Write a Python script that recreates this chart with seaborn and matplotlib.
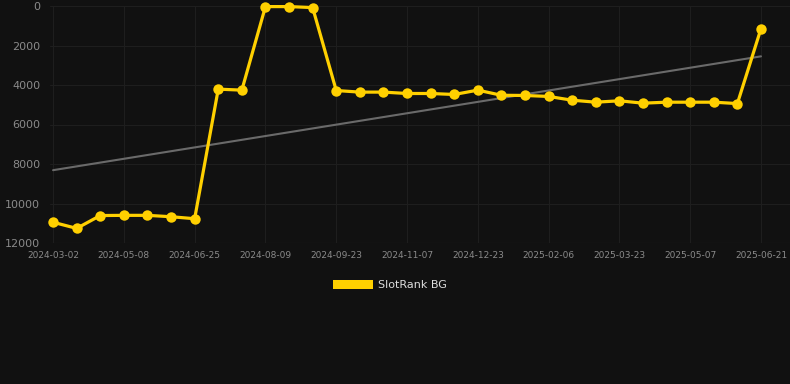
import matplotlib
matplotlib.use("Agg")
import matplotlib.pyplot as plt
import seaborn as sns
import numpy as np
import pandas as pd
from matplotlib.patches import Rectangle

dates = [
    "2024-03-02", "2024-03-24", "2024-04-15", "2024-05-08", "2024-05-24", "2024-06-09",
    "2024-06-25", "2024-07-10", "2024-07-25", "2024-08-09", "2024-08-24", "2024-09-08",
    "2024-09-23", "2024-10-08", "2024-10-23", "2024-11-07", "2024-11-22", "2024-12-08",
    "2024-12-23", "2025-01-07", "2025-01-22", "2025-02-06", "2025-02-21", "2025-03-08",
    "2025-03-23", "2025-04-07", "2025-04-22", "2025-05-07", "2025-05-22", "2025-06-06",
    "2025-06-21",
]
ranks = [
    10950, 11260, 10610, 10600, 10600, 10670, 10770, 4210, 4260, 30, 30, 80,
    4280, 4360, 4360, 4430, 4430, 4480, 4260, 4520, 4530, 4580, 4770, 4870,
    4800, 4920, 4870, 4870, 4870, 4940, 1150,
]
series_name = "SlotRank BG"

bg = "#111111"
yellow = "#FFD000"

sns.set_theme(style="dark")
plt.rcParams['font.family'] = ['DejaVu Sans']

df = pd.DataFrame({"idx": np.arange(len(dates)), "rank": ranks, "date": dates})

fig = plt.figure(figsize=(7.9, 3.84), dpi=100, facecolor=bg)
ax = fig.add_axes([50 / 790, 1 - 243 / 384, 740 / 790, 237 / 384])
ax.set_facecolor(bg)

sns.regplot(data=df, x="idx", y="rank", scatter=False, ci=None, ax=ax,
            line_kws=dict(color="#6a6a6a", linewidth=1.5, zorder=2))
sns.lineplot(data=df, x="idx", y="rank", ax=ax, color=yellow, linewidth=2.3,
             marker="o", markersize=7.5, markeredgewidth=0, legend=False,
             zorder=3, clip_on=False)

ax.set_ylim(12000, 0)
ax.set_xlim(-0.13, 31.23)
ax.set_yticks([0, 2000, 4000, 6000, 8000, 10000, 12000])
ax.set_yticklabels(["0", "2000", "4000", "6000", "8000", "10000", "12000"])
tick_idx = list(range(0, len(dates), 3))
ax.set_xticks(tick_idx)
ax.set_xticklabels([dates[i] for i in tick_idx])
ax.set_xlabel("")
ax.set_ylabel("")

ax.grid(True, color="#1e1e1e", linewidth=0.8)
for s in ax.spines.values():
    s.set_visible(False)
ax.tick_params(axis="y", colors="#8a8a8a", labelsize=8, length=0, pad=7)
ax.tick_params(axis="x", colors="#8a8a8a", labelsize=6.5, length=4, width=0.8, pad=2)
ax.tick_params(axis="x", color="#2a2a2a")
for lbl in ax.get_xticklabels() + ax.get_yticklabels():
    lbl.set_color("#8a8a8a")
ax.axhline(12000, color="#262626", linewidth=0.8, zorder=1)

handle = Rectangle((0, 0), 1, 1, facecolor=yellow, edgecolor="none")
leg = fig.legend([handle], [series_name], loc="center", bbox_to_anchor=(390 / 790, 1 - 285 / 384),
                 frameon=False, handlelength=3.6, handleheight=0.9, handletextpad=0.5, fontsize=8)
for t in leg.get_texts():
    t.set_color("#dddddd")

fig.savefig("out.png", dpi=100, facecolor=bg)
